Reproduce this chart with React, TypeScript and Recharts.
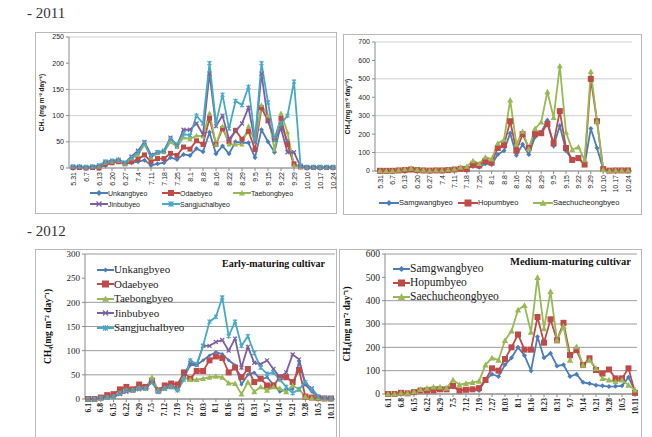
import React from 'react';
import { LineChart, Line, XAxis, YAxis, CartesianGrid } from 'recharts';

// ---- categories ----
const dates2011 = ['5.31', '6.3', '6.7', '6.10', '6.13', '6.16', '6.20', '6.23', '6.27', '6.30', '7.4', '7.7', '7.11', '7.14', '7.18', '7.21', '7.25', '7.28', '8.1', '8.4', '8.8', '8.12', '8.16', '8.19', '8.22', '8.25', '8.29', '9.1', '9.5', '9.10', '9.15', '9.19', '9.22', '9.26', '9.29', '10.4', '10.10', '10.14', '10.17', '10.21', '10.24'];
const dates2012 = ['6.1', '6.4', '6.8', '6.11', '6.15', '6.18', '6.22', '6.25', '6.29', '7.2', '7.5', '7.9', '7.12', '7.16', '7.19', '7.23', '7.27', '7.30', '8.03', '8.06', '8.1', '8.13', '8.16', '8.20', '8.23', '8.27', '8.31', '9.3', '9.7', '9.10', '9.14', '9.17', '9.21', '9.24', '9.28', '10.1', '10.5', '10.8', '10.11'];

// ---- 2011 early-maturing ----
const unkang2011 = [2, 2, 1, 1, 2, 5, 10, 12, 8, 10, 12, 15, 5, 8, 10, 20, 16, 26, 24, 37, 31, 68, 27, 42, 27, 50, 48, 48, 20, 73, 50, 30, 85, 50, 5, 2, 1, 1, 1, 1, 1];
const odae2011 = [1, 1, 0, 1, 0, 8, 10, 12, 8, 12, 17, 25, 12, 18, 18, 28, 24, 40, 36, 52, 45, 95, 45, 75, 50, 72, 55, 70, 35, 115, 90, 55, 95, 45, 8, 2, 1, 1, 1, 1, 1];
const taebong2011 = [2, 2, 1, 2, 3, 10, 12, 14, 8, 18, 25, 45, 20, 28, 30, 50, 40, 58, 55, 62, 60, 105, 45, 80, 45, 45, 45, 80, 50, 120, 100, 35, 105, 68, 5, 2, 1, 1, 1, 1, 1];
const jinbu2011 = [2, 2, 1, 2, 4, 12, 13, 15, 10, 22, 33, 50, 25, 30, 33, 58, 43, 73, 73, 85, 64, 180, 80, 100, 55, 70, 85, 115, 50, 180, 90, 55, 75, 30, 30, 3, 1, 1, 1, 1, 1];
const sangju2011 = [3, 3, 2, 3, 5, 12, 14, 16, 10, 20, 30, 47, 22, 30, 32, 55, 45, 65, 62, 100, 85, 200, 85, 140, 75, 128, 120, 155, 55, 200, 125, 55, 85, 100, 165, 5, 2, 2, 2, 2, 2];

// ---- 2011 medium-maturing ----
const samgwang2011 = [1, 1, 1, 3, 5, 8, 5, 3, 2, 3, 3, 5, 8, 15, 15, 25, 20, 40, 35, 90, 110, 205, 85, 145, 90, 185, 210, 275, 135, 245, 110, 60, 70, 35, 230, 125, 10, 2, 3, 3, 3];
const hopum2011 = [1, 1, 1, 3, 5, 8, 5, 3, 2, 3, 3, 5, 8, 12, 10, 35, 30, 55, 45, 125, 140, 270, 110, 200, 125, 200, 205, 255, 150, 325, 125, 60, 70, 35, 500, 270, 10, 2, 3, 3, 3];
const saechu2011 = [2, 2, 2, 5, 10, 15, 8, 5, 3, 5, 5, 8, 10, 20, 25, 55, 40, 75, 65, 150, 170, 385, 145, 215, 120, 230, 265, 430, 290, 570, 210, 115, 130, 60, 540, 270, 8, 2, 3, 3, 3];

// ---- 2012 early-maturing ----
const unkang2012 = [0, 0, 2, 3, 5, 12, 18, 18, 22, 22, 35, 18, 22, 25, 20, 45, 70, 70, 80, 90, 97, 93, 80, 70, 30, 50, 55, 40, 45, 30, 15, 20, 20, 78, 30, 15, 5, 2, 1];
const odae2012 = [0, 0, 3, 8, 10, 20, 25, 20, 30, 25, 38, 18, 28, 32, 30, 55, 42, 58, 58, 80, 88, 85, 55, 65, 45, 62, 35, 42, 28, 28, 45, 45, 35, 60, 5, 3, 2, 1, 1];
const taebong2012 = [0, 0, 2, 3, 5, 12, 18, 18, 22, 22, 45, 18, 22, 25, 22, 45, 40, 40, 42, 45, 47, 45, 33, 32, 10, 35, 15, 25, 18, 25, 22, 15, 28, 20, 5, 2, 2, 1, 1];
const jinbu2012 = [0, 0, 2, 3, 5, 10, 15, 18, 20, 22, 35, 15, 22, 25, 22, 50, 75, 70, 110, 110, 118, 122, 100, 125, 65, 108, 75, 72, 80, 62, 45, 55, 92, 82, 30, 22, 5, 2, 1];
const sangju2012 = [0, 0, 2, 3, 5, 12, 18, 18, 22, 22, 35, 15, 22, 25, 18, 40, 80, 72, 110, 160, 170, 210, 130, 160, 110, 130, 95, 65, 52, 55, 40, 25, 12, 20, 35, 20, 5, 2, 1];

// ---- 2012 medium-maturing ----
const samgwang2012 = [0, 0, 5, 3, 8, 15, 20, 25, 25, 22, 30, 15, 20, 20, 15, 60, 85, 75, 125, 155, 200, 165, 100, 245, 155, 175, 120, 125, 75, 85, 50, 45, 38, 35, 32, 33, 35, 72, 12];
const hopum2012 = [0, 0, 5, 3, 8, 15, 15, 15, 20, 20, 35, 15, 18, 20, 25, 60, 110, 100, 150, 200, 255, 190, 190, 330, 220, 320, 230, 305, 167, 188, 124, 153, 103, 88, 105, 67, 67, 110, 5];
const saechu2012 = [0, 0, 5, 3, 10, 20, 25, 30, 30, 25, 60, 40, 45, 50, 55, 125, 155, 145, 230, 270, 360, 380, 265, 500, 280, 440, 231, 290, 145, 203, 124, 145, 110, 67, 60, 53, 60, 38, 17];

const BLUE = '#4a7ebb';
const RED = '#be4b48';
const GREEN = '#98b954';
const PURPLE = '#7d60a0';
const CYAN = '#46aac5';

type Mark = 'diamond' | 'square' | 'triangle' | 'cross' | 'star';
type Series = { name: string; values: number[]; color: string; mark: Mark; size: number };

const early2011: Series[] = [
  { name: 'Unkangbyeo', values: unkang2011, color: BLUE, mark: 'diamond', size: 2.5 },
  { name: 'Odaebyeo', values: odae2011, color: RED, mark: 'square', size: 2.5 },
  { name: 'Taebongbyeo', values: taebong2011, color: GREEN, mark: 'triangle', size: 2.5 },
  { name: 'Jinbubyeo', values: jinbu2011, color: PURPLE, mark: 'cross', size: 2 },
  { name: 'Sangjuchalbyeo', values: sangju2011, color: CYAN, mark: 'star', size: 2 },
];
const medium2011: Series[] = [
  { name: 'Samgwangbyeo', values: samgwang2011, color: BLUE, mark: 'diamond', size: 2.5 },
  { name: 'Hopumbyeo', values: hopum2011, color: RED, mark: 'square', size: 3 },
  { name: 'Saechucheongbyeo', values: saechu2011, color: GREEN, mark: 'triangle', size: 3 },
];
const early2012: Series[] = [
  { name: 'Unkangbyeo', values: unkang2012, color: BLUE, mark: 'diamond', size: 2 },
  { name: 'Odaebyeo', values: odae2012, color: RED, mark: 'square', size: 3 },
  { name: 'Taebongbyeo', values: taebong2012, color: GREEN, mark: 'triangle', size: 3 },
  { name: 'Jinbubyeo', values: jinbu2012, color: PURPLE, mark: 'cross', size: 2 },
  { name: 'Sangjuchalbyeo', values: sangju2012, color: CYAN, mark: 'star', size: 2 },
];
const medium2012: Series[] = [
  { name: 'Samgwangbyeo', values: samgwang2012, color: BLUE, mark: 'diamond', size: 2.5 },
  { name: 'Hopumbyeo', values: hopum2012, color: RED, mark: 'square', size: 3 },
  { name: 'Saechucheongbyeo', values: saechu2012, color: GREEN, mark: 'triangle', size: 3.2 },
];

const markShape = (mark: Mark, color: string, s: number, cx: number, cy: number, key?: any) => {
  switch (mark) {
    case 'diamond':
      return <polygon key={key} points={`${cx},${cy - s} ${cx + s},${cy} ${cx},${cy + s} ${cx - s},${cy}`} fill={color} />;
    case 'square':
      return <rect key={key} x={cx - s} y={cy - s} width={2 * s} height={2 * s} fill={color} />;
    case 'triangle':
      return <polygon key={key} points={`${cx},${cy - s} ${cx + s},${cy + s * 0.8} ${cx - s},${cy + s * 0.8}`} fill={color} />;
    case 'cross':
      return <path key={key} d={`M${cx - s},${cy - s}L${cx + s},${cy + s}M${cx - s},${cy + s}L${cx + s},${cy - s}`} stroke={color} strokeWidth={1.2} />;
    default:
      return <path key={key} d={`M${cx - s},${cy - s}L${cx + s},${cy + s}M${cx - s},${cy + s}L${cx + s},${cy - s}M${cx},${cy - s - 0.5}L${cx},${cy + s + 0.5}`} stroke={color} strokeWidth={1.1} />;
  }
};

const dotFor = (s: Series) => (p: any) => {
  if (p.cx == null || p.cy == null) return <g key={p.index} />;
  return markShape(s.mark, s.color, s.size, p.cx, p.cy, p.index);
};

const RotTick = (font: string, size: number, color: string, weight = 'normal') => (p: any) => (
  <text
    x={p.x}
    y={p.y}
    transform={`rotate(-90 ${p.x} ${p.y})`}
    textAnchor="end"
    dominantBaseline="central"
    fontFamily={font}
    fontSize={size}
    fontWeight={weight}
    fill={color}
  >
    {p.payload.value}
  </text>
);

type PanelProps = {
  left: number; top: number; width: number; height: number;
  dates: string[]; series: Series[];
  yMax: number; yStep: number;
  margin: { top: number; right: number; bottom: number; left: number };
  yWidth: number; xHeight: number; padL: number; padR: number;
  font: string; yTickSize: number; xTickSize: number; xTickWeight?: string;
  gridColor: string; axisColor: string;
  yTitle: string; yTitleOffset: number; yTitleSize: number;
  lineWidth: number;
};

const Panel = (p: PanelProps) => {
  const data = p.dates.map((d, i) => {
    const row: any = { d };
    p.series.forEach((s) => (row[s.name] = s.values[i]));
    return row;
  });
  const ticks: number[] = [];
  for (let v = 0; v <= p.yMax; v += p.yStep) ticks.push(v);
  return (
    <div style={{ position: 'absolute', left: p.left, top: p.top }}>
      <LineChart width={p.width} height={p.height} data={data} margin={p.margin}>
        <CartesianGrid vertical={false} stroke={p.gridColor} strokeWidth={1} />
        <XAxis
          dataKey="d"
          interval={1}
          height={p.xHeight}
          padding={{ left: p.padL, right: p.padR }}
          stroke={p.axisColor}
          tickSize={3}
          tickMargin={1}
          tick={RotTick(p.font, p.xTickSize, '#222', p.xTickWeight)}
        />
        <YAxis
          domain={[0, p.yMax]}
          ticks={ticks}
          width={p.yWidth}
          stroke={p.axisColor}
          tickSize={3}
          tickMargin={2}
          tick={{ fontFamily: p.font, fontSize: p.yTickSize, fill: '#222' }}
          label={{
            value: p.yTitle,
            angle: -90,
            position: 'insideLeft',
            offset: p.yTitleOffset,
            style: { textAnchor: 'middle', fontFamily: p.font, fontSize: p.yTitleSize, fontWeight: 'bold', fill: '#111' },
          }}
        />
        {p.series.map((s) => (
          <Line
            key={s.name}
            type="linear"
            dataKey={s.name}
            stroke={s.color}
            strokeWidth={p.lineWidth}
            dot={dotFor(s)}
            isAnimationActive={false}
          />
        ))}
      </LineChart>
    </div>
  );
};

const LegendItem = ({ s, x, y, font, size, lineLen }: { s: Series; x: number; y: number; font: string; size: number; lineLen: number }) => (
  <div style={{ position: 'absolute', left: x, top: y, display: 'flex', alignItems: 'center', whiteSpace: 'nowrap', fontFamily: font, fontSize: size, color: '#222', lineHeight: 1 }}>
    <svg width={lineLen} height={10} style={{ display: 'block' }}>
      <line x1={0} y1={5} x2={lineLen} y2={5} stroke={s.color} strokeWidth={2} />
      {markShape(s.mark, s.color, s.size + 0.5, lineLen / 2, 5)}
    </svg>
    <span>{s.name}</span>
  </div>
);

const Frame = ({ left, top, width, height }: { left: number; top: number; width: number; height: number }) => (
  <div style={{ position: 'absolute', left, top, width, height, border: '1px solid #b8b8b8', boxSizing: 'border-box' }} />
);

const SANS = '"Liberation Sans", Arial, sans-serif';
const SERIF = '"Liberation Serif", "Times New Roman", serif';

export default function App() {
  return (
    <div style={{ position: 'absolute', left: 0, top: 0, width: 652, height: 437, background: '#fff', overflow: 'hidden' }}>
      <div style={{ position: 'absolute', left: 27, top: 5, fontFamily: SERIF, fontSize: 15, color: '#333' }}>- 2011</div>
      <div style={{ position: 'absolute', left: 27, top: 223, fontFamily: SERIF, fontSize: 15, color: '#333' }}>- 2012</div>

      {/* 2011 early */}
      <Frame left={35} top={32} width={302} height={182} />
      <Panel
        left={35} top={32} width={302} height={182}
        dates={dates2011} series={early2011} yMax={250} yStep={50}
        margin={{ top: 5, right: 1, bottom: 16, left: 0 }}
        yWidth={34} xHeight={30} padL={4} padR={3}
        font={SANS} yTickSize={7} xTickSize={7}
        gridColor="#cfcfcf" axisColor="#8a8a8a"
        yTitle="CH₄ (mg m⁻² day⁻¹)" yTitleOffset={7} yTitleSize={6.5} lineWidth={1.8}
      />
      <LegendItem s={early2011[0]} x={90} y={188} font={SANS} size={7} lineLen={18} />
      <LegendItem s={early2011[1]} x={162} y={188} font={SANS} size={7} lineLen={18} />
      <LegendItem s={early2011[2]} x={233} y={188} font={SANS} size={7} lineLen={18} />
      <LegendItem s={early2011[3]} x={90} y={199} font={SANS} size={7} lineLen={18} />
      <LegendItem s={early2011[4]} x={162} y={199} font={SANS} size={7} lineLen={18} />

      {/* 2011 medium */}
      <Frame left={343} top={34} width={299} height={181} />
      <Panel
        left={343} top={34} width={299} height={181}
        dates={dates2011} series={medium2011} yMax={700} yStep={100}
        margin={{ top: 8, right: 10, bottom: 14, left: 0 }}
        yWidth={32} xHeight={30} padL={5} padR={4}
        font={SANS} yTickSize={7} xTickSize={7}
        gridColor="#cfcfcf" axisColor="#8a8a8a"
        yTitle="CH₄(mg m⁻² day⁻¹)" yTitleOffset={5} yTitleSize={6.5} lineWidth={1.8}
      />
      <LegendItem s={medium2011[0]} x={379} y={198} font={SANS} size={7.5} lineLen={20} />
      <LegendItem s={medium2011[1]} x={458} y={198} font={SANS} size={7.5} lineLen={20} />
      <LegendItem s={medium2011[2]} x={533} y={198} font={SANS} size={7.5} lineLen={20} />

      {/* 2012 early */}
      <Frame left={35} top={249} width={302} height={200} />
      <Panel
        left={35} top={249} width={302} height={190}
        dates={dates2012} series={early2012} yMax={300} yStep={50}
        margin={{ top: 5, right: 2, bottom: 8, left: 0 }}
        yWidth={50} xHeight={32} padL={3} padR={4}
        font={SERIF} yTickSize={9} xTickSize={7.5} xTickWeight="bold"
        gridColor="#9c9c9c" axisColor="#8a8a8a"
        yTitle="CH₄(mg m⁻² day⁻¹)" yTitleOffset={13} yTitleSize={9.5} lineWidth={1.8}
      />
      {early2012.map((s, i) => (
        <LegendItem key={s.name} s={s} x={97} y={264 + i * 14.5} font={SERIF} size={11} lineLen={17} />
      ))}
      <div style={{ position: 'absolute', left: 222, top: 258, fontFamily: SERIF, fontSize: 10, fontWeight: 'bold', color: '#111', whiteSpace: 'nowrap' }}>
        Early-maturing cultivar
      </div>

      {/* 2012 medium */}
      <Frame left={339} top={249} width={303} height={200} />
      <Panel
        left={339} top={249} width={303} height={190}
        dates={dates2012} series={medium2012} yMax={600} yStep={100}
        margin={{ top: 5, right: 5, bottom: 13, left: 0 }}
        yWidth={46} xHeight={32} padL={3} padR={2}
        font={SERIF} yTickSize={9.5} xTickSize={7.5} xTickWeight="bold"
        gridColor="#9c9c9c" axisColor="#8a8a8a"
        yTitle="CH₄(mg m⁻² day⁻¹)" yTitleOffset={8} yTitleSize={9.5} lineWidth={1.8}
      />
      {medium2012.map((s, i) => (
        <LegendItem key={s.name} s={s} x={393} y={263 + i * 14} font={SERIF} size={11.5} lineLen={17} />
      ))}
      <div style={{ position: 'absolute', left: 510, top: 256, fontFamily: SERIF, fontSize: 10.5, fontWeight: 'bold', color: '#111', whiteSpace: 'nowrap' }}>
        Medium-maturing cultivar
      </div>
    </div>
  );
}
